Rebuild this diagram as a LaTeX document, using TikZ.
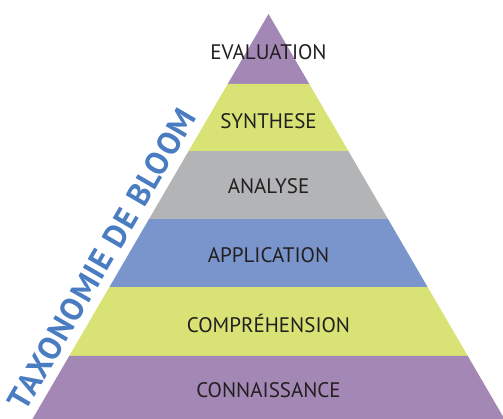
\documentclass[tikz,border=0pt]{standalone}
\usepackage{fontspec}
\setmainfont{PT Sans}
\usetikzlibrary{calc}
\definecolor{bloompurple}{HTML}{A388B5}
\definecolor{bloomgreen}{HTML}{D9E274}
\definecolor{bloomgrey}{HTML}{B3B4B6}
\definecolor{bloomblue}{HTML}{7A95CB}
\definecolor{bloomtitle}{HTML}{4A7CC1}
\definecolor{bloomtext}{HTML}{231F20}
\tikzset{
    level/.style={text=bloomtext, font=\fontsize{21}{24}\selectfont},
}
\begin{document}
\begin{tikzpicture}[x=1pt, y=1pt]
        \useasboundingbox (0,0) rectangle (503,419);
        \clip (0,0) rectangle (503,419);
        \coordinate (apex) at (268.5,405);
        \coordinate (bl) at (32.5,0);
        \coordinate (br) at (504.5,0);
        % Bands of the pyramid
        \foreach \ta/\tb/\col in {0/0.1728/bloompurple, 0.1728/0.3383/bloomgreen,
            0.3383/0.5062/bloomgrey, 0.5062/0.6741/bloomblue,
            0.6741/0.8444/bloomgreen, 0.8444/1/bloompurple}
            \fill[\col] ($(apex)!\ta!(bl)$) -- ($(apex)!\tb!(bl)$)
                -- ($(apex)!\tb!(br)$) -- ($(apex)!\ta!(br)$) -- cycle;
        % Add labels
        \node[level] (eval) at (268.5,367) {EVALUATION};
        \node[level] (synth) at (268.5,298) {SYNTHESE};
        \node[level] (anal) at (268.5,233) {ANALYSE};
        \node[level] (appl) at (268.5,164) {APPLICATION};
        \node[level] (compr) at (268.5,96) {COMPRÉHENSION};
        \node[level] (conn) at (268.5,29) {CONNAISSANCE};
        % Title along the left side
        \node[text=bloomtitle, font=\fontsize{32}{36}\selectfont\bfseries,
            rotate=59.8, inner sep=0pt] (title) at (102,160)
            {\addfontfeature{LetterSpace=4}TAXONOMIE DE BLOOM};
    \end{tikzpicture}
\end{document}
